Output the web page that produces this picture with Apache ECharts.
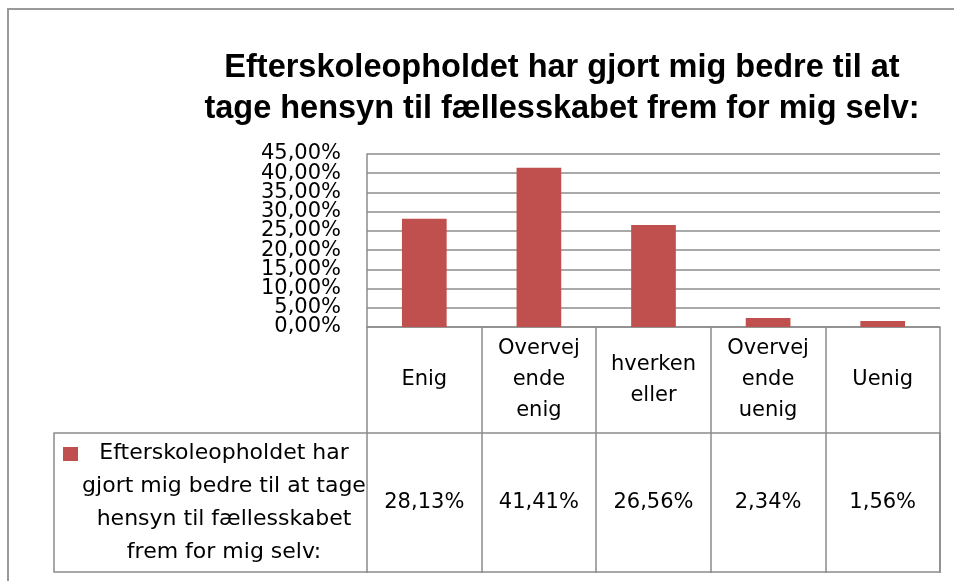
<!DOCTYPE html>
<html>
<head>
<meta charset="utf-8">
<script src="https://cdn.jsdelivr.net/npm/echarts@6/dist/echarts.min.js"></script>
<style>
  html, body { margin: 0; padding: 0; background: #fff; }
  #chart01 { width: 954px; height: 581px; }
</style>
</head>
<body>
<div id="chart01"></div>
<script>
// data
var kategorier = ['Enig', 'Overvejende enig', 'hverken eller', 'Overvejende uenig', 'Uenig'];
var andele     = [28.13, 41.41, 26.56, 2.34, 1.56];
var serieNavn  = 'Efterskoleopholdet har gjort mig bedre til at tage hensyn til fællesskabet frem for mig selv:';
var yMin = 0, yMax = 45, yStep = 5;

var rod    = '#C0504D';
var graa   = '#8c8c8c';
var fontTx = '"DejaVu Sans", sans-serif';

function pct(v) {
    return v.toFixed(2).replace('.', ',') + '%';
}

// greedy word wrap on character count
function ombryd(txt, maks) {
    var ord = txt.split(' ');
    var linjer = [];
    var cur = '';
    ord.forEach(function (w) {
        if (cur === '') { cur = w; }
        else if ((cur + ' ' + w).length <= maks) { cur = cur + ' ' + w; }
        else { linjer.push(cur); cur = w; }
    });
    if (cur !== '') linjer.push(cur);
    return linjer.join('\n');
}

// excel splits long words in the narrow category cells
function delOrd(txt) {
    var ud = [];
    txt.split(' ').forEach(function (w) {
        while (w.length > 7) { ud.push(w.slice(0, 7)); w = w.slice(7); }
        ud.push(w);
    });
    return ud.join('\n');
}

var yLabel = {
    margin: 26,
    fontFamily: fontTx,
    fontSize: 21,
    color: '#000'
};

var cha01 = echarts.init(document.getElementById('chart01'));
var opt01 = {
    animation: false,
    title: {
        text: ombryd(serieNavn, 47),
        left: 562,
        top: 48,
        padding: 0,
        textAlign: 'center',
        textStyle: {
            fontFamily: '"Liberation Sans", Arial, sans-serif',
            fontWeight: 'bold',
            fontSize: 32.5,
            lineHeight: 41,
            color: '#000'
        }
    },
    grid: { left: 367, right: 14, top: 154, bottom: 254, containLabel: false },
    xAxis: [
        {
            type: 'category',
            data: kategorier,
            position: 'bottom',
            axisLine: { show: true, lineStyle: { color: graa, width: 1.5 } },
            axisTick: { show: true, length: 246, interval: 0, lineStyle: { color: graa, width: 1.5 } },
            axisLabel: {
                interval: 0,
                margin: 53,
                verticalAlign: 'middle',
                fontFamily: fontTx,
                fontSize: 21,
                lineHeight: 31,
                color: '#000',
                formatter: function (v) { return delOrd(v); }
            }
        },
        {
            type: 'category',
            data: kategorier,
            position: 'bottom',
            offset: 106,
            axisLine: { show: false },
            axisTick: { show: false },
            axisLabel: {
                interval: 0,
                margin: 70,
                verticalAlign: 'middle',
                fontFamily: fontTx,
                fontSize: 21,
                color: '#000',
                formatter: function (v, i) { return pct(andele[i]); }
            }
        }
    ],
    yAxis: [
        {
            type: 'value',
            min: yMin,
            max: yMax,
            interval: yStep,
            position: 'left',
            axisLine: { show: true, lineStyle: { color: graa, width: 1.5 } },
            axisTick: { show: false },
            splitLine: { show: true, lineStyle: { color: graa, width: 1.5 } },
            axisLabel: Object.assign({
                showMinLabel: false,
                showMaxLabel: false,
                formatter: function (v) { return pct(v); }
            }, yLabel)
        },
        {
            // carries only the end labels (0 and 45) so the tight stack is not thinned out
            type: 'value',
            min: yMin,
            max: yMax,
            interval: yStep,
            position: 'left',
            offset: 0,
            axisLine: { show: false },
            axisTick: { show: false },
            splitLine: { show: false },
            axisLabel: Object.assign({
                showMinLabel: true,
                showMaxLabel: true,
                formatter: function (v) { return (v === yMin || v === yMax) ? pct(v) : ''; }
            }, yLabel)
        }
    ],
    series: [
        {
            name: serieNavn,
            type: 'bar',
            xAxisIndex: 0,
            yAxisIndex: 0,
            barWidth: '39%',
            itemStyle: { color: rod },
            data: andele
        }
    ],
    graphic: [
        // chart frame
        {
            type: 'rect',
            shape: { x: 8, y: 9, width: 980, height: 620 },
            style: { fill: 'none', stroke: '#999', lineWidth: 2 },
            silent: true
        },
        // data table row with series name
        {
            type: 'rect',
            shape: { x: 54, y: 433, width: 886, height: 139 },
            style: { fill: 'none', stroke: graa, lineWidth: 1.5 },
            silent: true
        },
        {
            type: 'rect',
            shape: { x: 63, y: 447, width: 15, height: 14 },
            style: { fill: rod },
            silent: true
        },
        {
            type: 'text',
            x: 224,
            y: 503,
            style: {
                text: ombryd(serieNavn, 27),
                textAlign: 'center',
                textVerticalAlign: 'middle',
                fontFamily: fontTx,
                fontSize: 22,
                lineHeight: 33,
                fill: '#000'
            },
            silent: true
        }
    ]
};
cha01.setOption(opt01);
</script>
</body>
</html>
